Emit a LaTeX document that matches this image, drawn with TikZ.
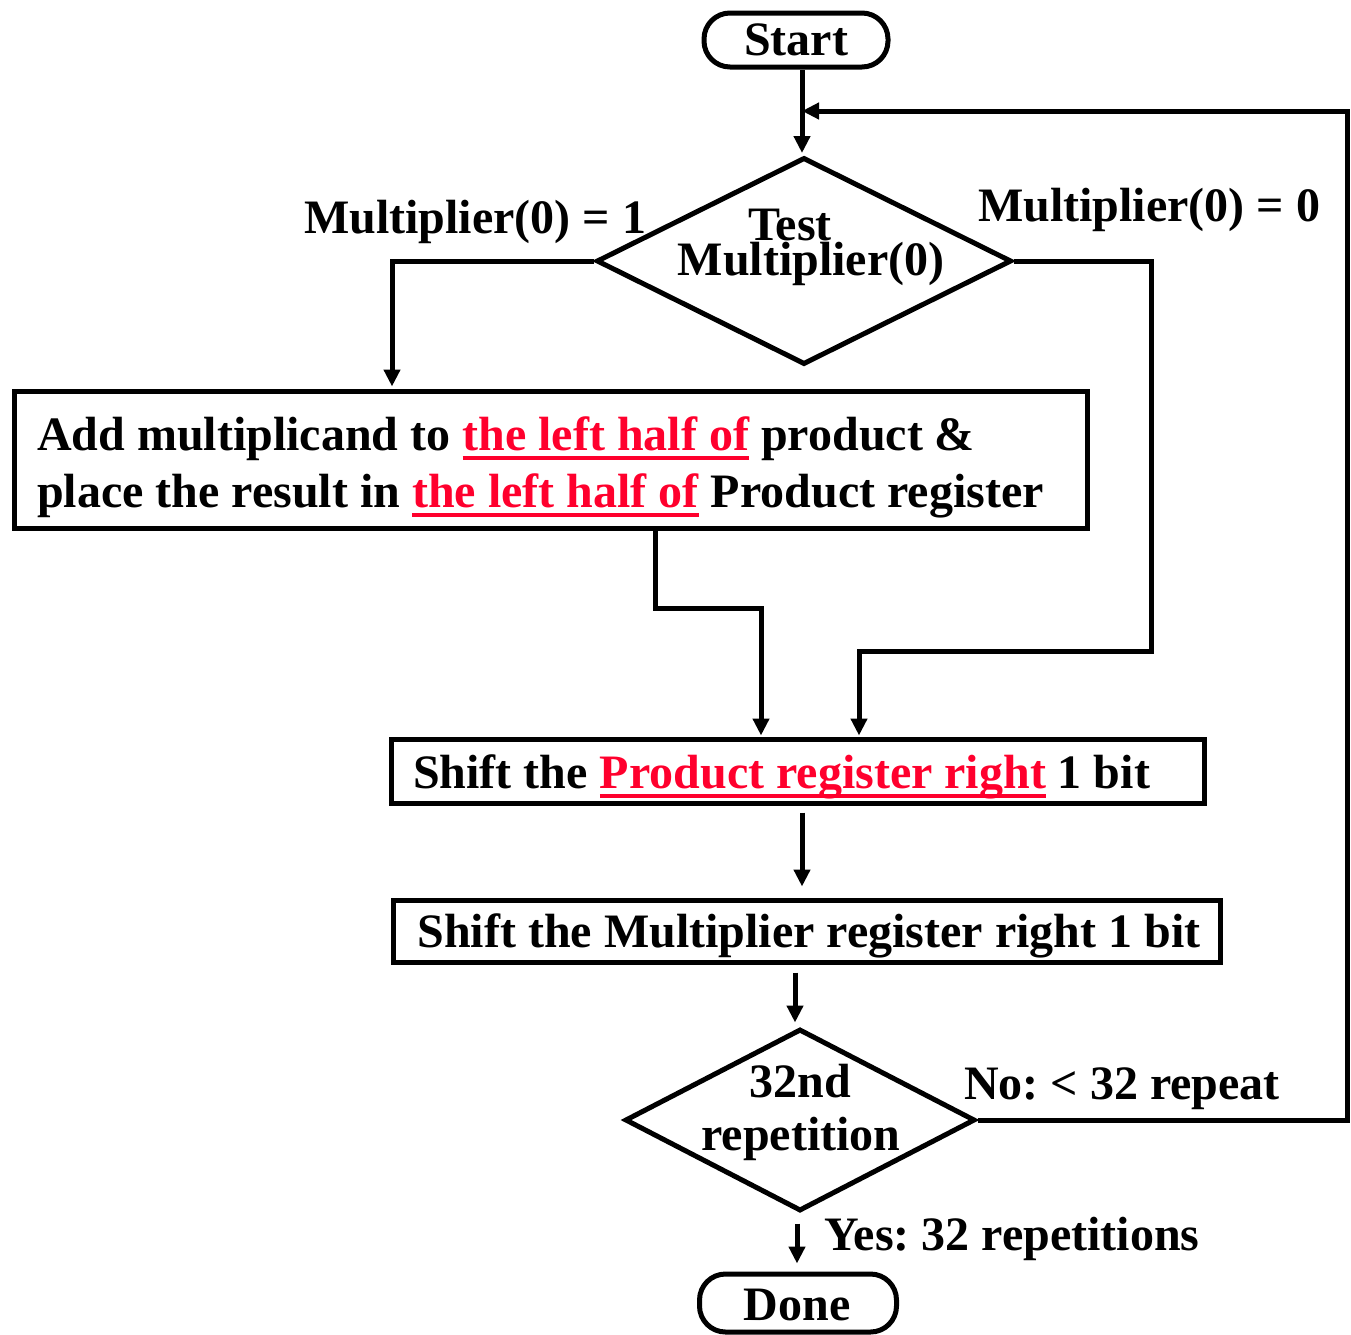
\documentclass[tikz,border=0pt]{standalone}
\usepackage{fontspec}
\setmainfont{Liberation Serif}[BoldFont={Liberation Serif Bold}]
\usetikzlibrary{shapes.geometric,arrows.meta}
\definecolor{hired}{RGB}{255,0,45}
\frenchspacing
\newsavebox\ulbox
\newcommand\redul[1]{{\color{hired}\sbox\ulbox{#1}\rlap{\usebox\ulbox}\rule[-9.5pt]{\wd\ulbox}{3.5pt}}}
\tikzset{
  every node/.style={font=\fontsize{48}{57}\selectfont\bfseries},
  lbl/.style={anchor=base,inner sep=0pt},
  box/.style={draw,line width=5pt,rectangle,inner sep=0pt},
  term/.style={draw,line width=5pt,rectangle,rounded corners=26pt,inner sep=0pt},
  dia/.style={draw,line width=5pt,diamond,inner sep=0pt},
  conn/.style={line width=5pt,-{Triangle[length=17pt,width=16pt]}},
}
\begin{document}
\begin{tikzpicture}[x=1pt,y=-1pt]
\useasboundingbox (0,0) rectangle (1351,1334);
% terminals
\node[term,minimum width=184pt,minimum height=54pt] (start) at (796,40) {};
\node[lbl] (starttxt) at (796,55) {Start};
% diamond 1
\node[dia,minimum width=415pt,minimum height=207pt] (d1) at (804,261) {};
\node[lbl] (d1a) at (790,240) {Test};
\node[lbl] (d1b) at (811,275) {Multiplier(0)};
\node[lbl] (l1) at (475,233) {Multiplier(0) = 1};
\node[lbl] (l0) at (1149,221) {Multiplier(0) = 0};
% box 1
\node[box,minimum width=1073pt,minimum height=137pt] (b1) at (550.5,459.5) {};
\node[anchor=base west,inner sep=0pt] (b1txt) at (37,450)
 {Add multiplicand to \redul{the left half of} product \&};
\node[anchor=base west,inner sep=0pt] (b1txt2) at (37,507)
 {place the result in \redul{the left half of} Product register};
% box 2
\node[box,minimum width=813pt,minimum height=64pt] (b2) at (797.5,771) {};
\node[anchor=base west,inner sep=0pt] (b2txt) at (413,788)
 {Shift the \redul{Product register right} 1 bit};
% box 3
\node[box,minimum width=827pt,minimum height=62pt] (b3) at (806.5,931) {};
\node[lbl] (b3txt) at (809,947) {Shift the Multiplier register right 1 bit};
% diamond 2
\node[dia,minimum width=350pt,minimum height=182pt] (d2) at (800,1120) {};
\node[lbl] (d2a) at (800,1097) {32nd};
\node[lbl] (d2b) at (801,1150) {repetition};
\node[lbl] (lno) at (1122,1099) {No: < 32 repeat};
\node[lbl] (lyes) at (1012,1250) {Yes: 32 repetitions};
% done
\node[term,minimum width=197pt,minimum height=58pt] (done) at (798,1303) {};
\node[lbl] (donetxt) at (797,1320) {Done};
% coordinates
\coordinate (loopR) at (1347,111);
\coordinate (join) at (802,111);
\coordinate (lb) at (392,261);
\coordinate (r1) at (1151,651);
\coordinate (r2) at (859,651);
\coordinate (m1) at (655,608);
\coordinate (m2) at (761,608);
% connectors
\draw[conn,shorten >=2pt] (802,70) -- (802,155);
\draw[conn] (d2.east) -| (loopR) -- (join);
\draw[conn,shorten >=2pt] (d1.west) -- (lb) -- (lb |- b1.north);
\draw[conn,shorten >=1pt] (d1.east) -| (r1) -- (r2) -- (r2 |- b2.north);
\draw[conn,shorten >=1pt] (m1 |- b1.south) -- (m1) -- (m2) -- (m2 |- b2.north);
\draw[conn,shorten <=7pt,shorten >=11pt] (b2.south -| 802,0) -- (b3.north -| 802,0);
\draw[conn,shorten <=8pt,shorten >=4pt] (b3.south -| 795,0) -- (d2.north -| 795,0);
\draw[conn,shorten <=10pt,shorten >=8pt] (d2.south -| 797,0) -- (done.north -| 797,0);
\end{tikzpicture}
\end{document}
